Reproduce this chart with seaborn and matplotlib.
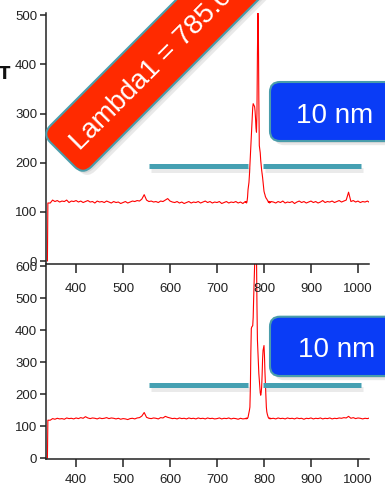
import numpy as np
import pandas as pd
import matplotlib
matplotlib.use("Agg")
import matplotlib.pyplot as plt
import seaborn as sns
from matplotlib.patches import FancyBboxPatch
from matplotlib.lines import Line2D
from matplotlib.transforms import Affine2D
import matplotlib.patheffects as pe

# ---------------- data ----------------
wl_start = [339, 340]
wl_a = list(range(345, 761, 5))
wl_peak = list(range(761, 816, 1))
wl_b = list(range(820, 1026, 5))

top_start = [0, 118]
top_a = [118, 124, 121, 123, 120, 122, 121, 124, 119, 122,
         121, 123, 120, 122, 119, 121, 123, 120, 121, 118,
         122, 120, 121, 119, 122, 120, 118, 121, 119, 120,
         117, 119, 121, 118, 120, 122, 121, 123, 122, 126,
         135, 124, 121, 122, 120, 121, 119, 122, 121, 124,
         127, 122, 120, 119, 121, 118, 120, 117, 119, 121,
         118, 120, 119, 121, 118, 120, 122, 119, 121, 118,
         120, 119, 121, 117, 119, 121, 118, 120, 119, 121,
         118, 120, 117, 121]
top_peak = [119, 121, 118, 122, 130, 145, 152, 160, 175, 195,
            215, 235, 255, 275, 295, 312, 320, 318, 316, 314,
            305, 290, 270, 262, 300, 420, 505, 480, 330, 235,
            228, 220, 205, 195, 185, 178, 170, 160, 150, 142,
            138, 135, 131, 129, 127, 126, 124, 123, 120, 119,
            121, 118, 120, 119, 121]
top_b = [120, 118, 121, 119, 122, 118, 120, 119, 121, 117,
         120, 122, 119, 121, 118, 120, 122, 119, 121, 118,
         120, 123, 119, 121, 120, 122, 119, 121, 123, 120,
         122, 124, 140, 121, 123, 120, 122, 119, 121, 120,
         122, 119]

bot_start = [0, 119]
bot_a = [119, 124, 122, 125, 123, 124, 122, 126, 124, 125,
         123, 126, 124, 127, 125, 130, 126, 124, 126, 125,
         123, 126, 124, 125, 127, 124, 126, 125, 123, 125,
         122, 124, 123, 121, 124, 125, 123, 126, 127, 132,
         143, 128, 125, 124, 126, 125, 123, 127, 126, 131,
         128, 126, 124, 125, 123, 126, 124, 125, 123, 126,
         124, 125, 123, 126, 124, 125, 123, 126, 124, 125,
         123, 124, 126, 123, 125, 124, 126, 123, 125, 124,
         122, 125, 123, 124]
bot_peak = [125, 123, 126, 124, 125, 128, 135, 142, 150, 160,
            220, 330, 405, 410, 412, 414, 440, 500, 545, 600,
            700, 760, 720, 640, 480, 370, 335, 300, 265, 243,
            225, 205, 197, 205, 222, 260, 310, 337, 345, 352,
            320, 270, 234, 195, 160, 145, 138, 133, 128, 126,
            124, 126, 123, 125, 124]
bot_b = [125, 123, 126, 124, 125, 123, 126, 124, 125, 123,
         126, 124, 125, 122, 125, 124, 126, 123, 125, 124,
         126, 123, 125, 124, 126, 123, 125, 124, 126, 125,
         127, 126, 131, 125, 127, 124, 126, 125, 123, 125,
         124, 126]

x_ticks = [400, 500, 600, 700, 800, 900, 1000]
top_yticks = [0, 100, 200, 300, 400, 500]
bot_yticks = [0, 100, 200, 300, 400, 500, 600]
ribbon_label = "Lambda1 = 785.0 nm"
box_label = "10 nm"

wl = wl_start + wl_a + wl_peak + wl_b
def build(*parts):
    v = []
    for p in parts:
        v += p
    n = min(len(v), len(wl))
    return pd.DataFrame({"wl": wl[:n], "val": v[:n]})

df_top = build(top_start, top_a, top_peak, top_b)
df_bot = build(bot_start, bot_a, bot_peak, bot_b)

# ---------------- style ----------------
sns.set_style("ticks")
plt.rcParams["font.family"] = ["Liberation Sans Narrow", "Liberation Sans", "DejaVu Sans"]

W, H = 385, 491
fig = plt.figure(figsize=(W / 100, H / 100), dpi=100)

def frac_rect(x0, y0, x1, y1):
    return [x0 / W, 1 - y1 / H, (x1 - x0) / W, (y1 - y0) / H]

ax_bot = fig.add_axes(frac_rect(46, 263.5, 369, 459.3))
ax_top = fig.add_axes(frac_rect(46, 12.7, 369, 263.5))
ax_top.set_zorder(2)
ax_top.patch.set_alpha(0)

sns.lineplot(data=df_top, x="wl", y="val", ax=ax_top, color="#ff0000",
             linewidth=0.8, estimator=None, errorbar=None, sort=False)
sns.lineplot(data=df_bot, x="wl", y="val", ax=ax_bot, color="#ff0000",
             linewidth=0.8, estimator=None, errorbar=None, sort=False)

for ax, yt, ylim, xpad, xlen in [(ax_top, top_yticks, (-5, 505), 7.5, 6.5),
                                 (ax_bot, bot_yticks, (-3, 608), 4.5, 6.0)]:
    ax.set_xlim(336, 1023.5)
    ax.set_ylim(*ylim)
    ax.set_xticks(x_ticks)
    ax.set_yticks(yt)
    ax.set_xlabel("")
    ax.set_ylabel("")
    for s in ["top", "right"]:
        ax.spines[s].set_visible(False)
    for s in ["left", "bottom"]:
        ax.spines[s].set_color("#222222")
        ax.spines[s].set_linewidth(1.1)
    ax.tick_params(axis="x", length=xlen, width=1.1, color="#222222",
                   pad=xpad, labelsize=9.5, labelcolor="#222222")
    ax.tick_params(axis="y", length=4.3, width=1.1, color="#222222",
                   pad=2, labelsize=9.5, labelcolor="#222222")

# ---------------- annotations (pixel placement helpers) ----------------
def inch(x, y):
    return (x / 100, (H - y) / 100)

def soft_shadow():
    return [pe.SimplePatchShadow(offset=(3, -3), shadow_rgbFace="#888888", alpha=0.18),
            pe.SimplePatchShadow(offset=(1.5, -1.5), shadow_rgbFace="#888888", alpha=0.18),
            pe.Normal()]

# teal bars with gap
for yy in (165.5, 385):
    for x0, x1 in ((149, 248), (263, 361)):
        p0, p1 = inch(x0, yy), inch(x1, yy)
        ln = Line2D([p0[0], p1[0]], [p0[1], p1[1]], transform=fig.dpi_scale_trans,
                    color="#45a0b2", linewidth=3.6, solid_capstyle="butt", zorder=5,
                    path_effects=[pe.SimpleLineShadow(offset=(1.5, -3), alpha=0.15,
                                                      shadow_color="#777777"),
                                  pe.Normal()])
        fig.add_artist(ln)

# blue "10 nm" boxes
for (bx0, by0, by1, tx, ty) in ((270, 82, 141, 335, 122.7),
                                (270, 316.7, 376, 336.7, 357.3)):
    ll = inch(bx0, by1)
    box = FancyBboxPatch(ll, (420 - bx0) / 100, (by1 - by0) / 100,
                         boxstyle="round,pad=0,rounding_size=0.1",
                         transform=fig.dpi_scale_trans, facecolor="#0a3cf6",
                         edgecolor="#4a9dab", linewidth=1.5, zorder=6,
                         path_effects=soft_shadow())
    fig.add_artist(box)
    fig.text(*inch(tx, ty), box_label, transform=fig.dpi_scale_trans,
             ha="center", va="baseline", color="white", fontsize=20,
             family=["Liberation Sans", "DejaVu Sans"], zorder=7)

# red rotated ribbon
ox, oy = inch(62.5, 154.5)
rib_t = Affine2D().rotate_deg(45).translate(ox, oy) + fig.dpi_scale_trans
ribbon = FancyBboxPatch((0, -0.29), 5.0, 0.58,
                        boxstyle="round,pad=0,rounding_size=0.12",
                        transform=rib_t, facecolor="#ff2a00",
                        edgecolor="#4a9dab", linewidth=1.5, zorder=8,
                        path_effects=soft_shadow())
fig.add_artist(ribbon)
c45 = np.cos(np.pi / 4)
d, off = 0.15, -0.095
tx = ox + d * c45 - off * c45
ty = oy + d * c45 + off * c45
fig.text(tx, ty, ribbon_label, transform=fig.dpi_scale_trans, rotation=45,
         rotation_mode="anchor", ha="left", va="baseline", color="white",
         fontsize=20, family=["Liberation Sans", "DejaVu Sans"], zorder=9)

# partial glyph at the left edge
fig.text(*inch(4.5, 79), "T", transform=fig.dpi_scale_trans, ha="center",
         va="baseline", fontsize=12, fontweight="bold", color="#111111",
         family=["DejaVu Sans"], zorder=9)

fig.savefig("out.png", dpi=100)
